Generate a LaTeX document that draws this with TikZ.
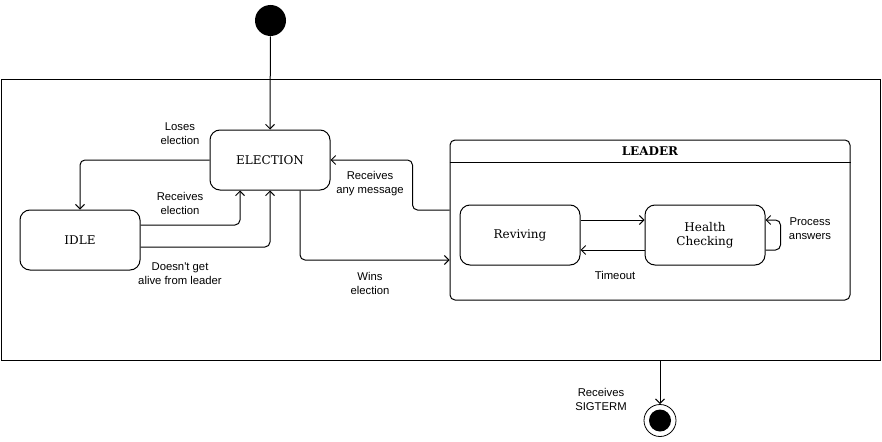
\documentclass[tikz,border=0pt]{standalone}
\usepackage{fontspec}
\setmainfont{DejaVu Serif}
\setsansfont{Liberation Sans}
\usetikzlibrary{arrows.meta}
\begin{document}
\begin{tikzpicture}[x=1pt,y=-1pt,
  line width=1pt,
  state/.style={draw, rounded corners=10pt, minimum width=120pt, minimum height=60pt, inner sep=0pt, font=\fontsize{12}{14}\selectfont, align=center},
  lbl/.style={font=\sffamily\fontsize{11.3}{14}\selectfont, align=center, inner sep=0pt},
  conn/.style={-{Straight Barb[length=4.5pt,width=9pt]}, rounded corners=5pt}
]
\useasboundingbox (0,0) rectangle (882,441);
\node[draw, minimum width=879pt, minimum height=280pt, inner sep=0pt] (outer) at (440.5,220) {};
\node[circle, fill=black, minimum size=31pt, inner sep=0pt] (start) at (270.5,20.5) {};
\node[state] (election) at (270,160) {ELECTION};
\node[state] (idle) at (80,240) {IDLE};
\node[draw, rounded corners=5pt, minimum width=400pt, minimum height=160pt, inner sep=0pt] (leader) at (650,220) {};
\draw ([yshift=-23pt]leader.north west) -- ([yshift=-23pt]leader.north east);
\node[font=\bfseries\fontsize{12}{14}\selectfont] (leadertitle) at (650,151.5) {LEADER};
\node[state] (reviving) at (520,235) {Reviving};
\node[state] (health) at (705,235) {Health\\Checking};
\node[circle, draw, line width=0.8pt, minimum size=32pt, inner sep=0pt] (final) at (660,420.5) {};
\node[circle, fill=black, minimum size=22pt, inner sep=0pt] (finalin) at (final) {};

\draw[conn] (start) -- (election.north);
\draw[conn] (election.west) -| (idle.north);
\draw[conn] ([yshift=15pt]idle.east) -| ([xshift=-30pt]election.south);
\draw[conn] ([yshift=-7pt]idle.east) -| (election.south);
\draw[conn] ([xshift=30pt]election.south) |- ([yshift=-40pt]leader.west);
\draw[conn] ([yshift=10pt]leader.west) -- ++(-37,0) |- (election.east);
\draw[conn] ([yshift=15pt]reviving.east) -- ([yshift=15pt]health.west);
\draw[conn] ([yshift=-15pt]health.west) -- ([yshift=-15pt]reviving.east);
\draw[conn] ([yshift=-15pt]health.east) -- ++(15,0) |- ([yshift=15pt]health.east);
\draw[conn] (final |- outer.south) -- (final.north);

\node[lbl] (l1) at (180,133.5) {Loses\\election};
\node[lbl] (l2) at (180,203.5) {Receives\\election};
\node[lbl] (l3) at (180,273.5) {Doesn\textquotesingle t get\\alive from leader};
\node[lbl] (l4) at (370,183.5) {Receives\\any message};
\node[lbl] (l5) at (370,283) {Wins\\election};
\node[lbl] (l6) at (615,275.5) {Timeout};
\node[lbl] (l7) at (810,229) {Process\\answers};
\node[lbl] (l8) at (601,399) {Receives\\SIGTERM};
\end{tikzpicture}
\end{document}
